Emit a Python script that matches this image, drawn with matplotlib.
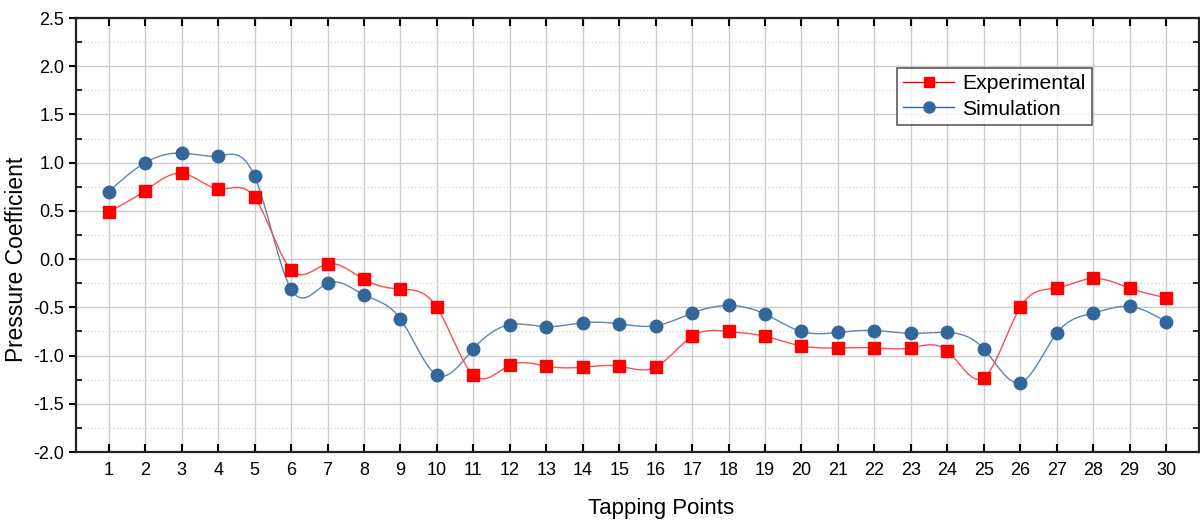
import numpy as np
import matplotlib.pyplot as plt
from matplotlib.ticker import MultipleLocator

plt.rcParams['font.family'] = ['Liberation Sans', 'DejaVu Sans']

tapping = list(range(1, 31))
experimental = [0.49, 0.71, 0.89, 0.73, 0.64, -0.11, -0.05, -0.21, -0.31, -0.50,
                -1.20, -1.10, -1.11, -1.12, -1.11, -1.12, -0.80, -0.75, -0.80, -0.90,
                -0.92, -0.92, -0.92, -0.95, -1.23, -0.50, -0.30, -0.20, -0.30, -0.40]
simulation = [0.70, 1.00, 1.10, 1.07, 0.86, -0.31, -0.25, -0.37, -0.62, -1.20,
              -0.93, -0.68, -0.70, -0.66, -0.67, -0.69, -0.56, -0.48, -0.57, -0.75,
              -0.76, -0.74, -0.77, -0.76, -0.93, -1.28, -0.77, -0.56, -0.49, -0.65]


def spline(x, y, n=20):
    # natural cubic spline, like the spline connection in the original
    x = np.asarray(x, float)
    y = np.asarray(y, float)
    k = len(x)
    h = np.diff(x)
    A = np.zeros((k, k))
    r = np.zeros(k)
    A[0, 0] = A[-1, -1] = 1
    for i in range(1, k - 1):
        A[i, i - 1] = h[i - 1]
        A[i, i] = 2 * (h[i - 1] + h[i])
        A[i, i + 1] = h[i]
        r[i] = 6 * ((y[i + 1] - y[i]) / h[i] - (y[i] - y[i - 1]) / h[i - 1])
    M = np.linalg.solve(A, r)
    xs, ys = [], []
    for i in range(k - 1):
        t = np.linspace(x[i], x[i + 1], n, endpoint=False)
        a = x[i + 1] - t
        b = t - x[i]
        s = (M[i] * a**3 + M[i + 1] * b**3) / (6 * h[i]) \
            + (y[i] / h[i] - M[i] * h[i] / 6) * a \
            + (y[i + 1] / h[i] - M[i + 1] * h[i] / 6) * b
        xs.extend(t)
        ys.extend(s)
    xs.append(x[-1])
    ys.append(y[-1])
    return np.array(xs), np.array(ys)


fig = plt.figure(figsize=(12, 5.22), dpi=100)
ax = fig.add_axes([0.0633, 0.134, 0.9357, 0.8315])

red = '#ff0000'
blue = '#336699'

sx, sy = spline(tapping, simulation)
ax.plot(sx, sy, color='#5b86b0', lw=1, zorder=3)
ax.plot(tapping, simulation, 'o', color=blue, ms=9, zorder=4)
ex, ey = spline(tapping, experimental)
ax.plot(ex, ey, color='#ff4d4d', lw=1, zorder=3)
ax.plot(tapping, experimental, 's', color=red, ms=8, zorder=5)

# legend handles
ax.plot([], [], '-s', color=red, mec=red, mfc=red, lw=1, ms=7, label='Experimental')
ax.plot([], [], '-o', color=blue, lw=1, ms=8, label='Simulation')
leg = ax.legend(loc='upper left', bbox_to_anchor=(897 / 1200, 1 - 68 / 522),
                bbox_transform=fig.transFigure, borderaxespad=0, fontsize=15.2,
                frameon=True, fancybox=False, handlelength=2.4, handletextpad=0.4,
                borderpad=0.3, labelspacing=0.3)
leg.get_frame().set_edgecolor('#333333')
leg.get_frame().set_linewidth(1.2)

ax.set_xlim(0.1, 30.9)
ax.set_ylim(-2.0, 2.5)
ax.set_xticks(tapping)
ax.yaxis.set_major_locator(MultipleLocator(0.5))
ax.yaxis.set_minor_locator(MultipleLocator(0.25))
ax.yaxis.set_major_formatter(plt.FormatStrFormatter('%.1f'))

ax.grid(True, which='major', color='#cccccc', lw=1)
ax.grid(True, which='minor', axis='y', color='#d8d8d8', lw=1, ls=':')
ax.set_axisbelow(True)

ax.tick_params(axis='x', which='major', direction='in', length=6, width=1.5,
               top=True, labelsize=13, pad=7)
ax.tick_params(axis='y', which='major', direction='out', length=5, width=1.5,
               right=True, labelsize=13)
ax.tick_params(axis='y', which='minor', direction='in', length=4, width=1.2, right=True)
for s in ax.spines.values():
    s.set_linewidth(1.6)
    s.set_color('#222222')

ax.set_xlabel('Tapping Points', fontsize=16)
ax.set_ylabel('Pressure Coefficient', fontsize=16.4)
ax.xaxis.set_label_coords(0.521, -0.107)
ax.yaxis.set_label_coords(-0.0427, 0.445)

fig.savefig('out.png', dpi=100)
